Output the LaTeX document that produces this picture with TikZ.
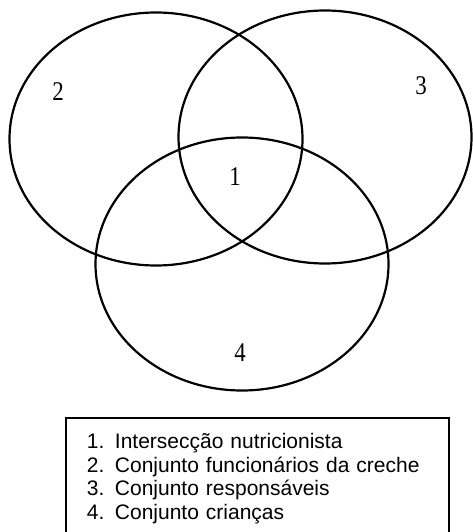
\documentclass[tikz,border=0pt]{standalone}
\usepackage{fontspec}
\setmainfont{Liberation Serif}
\newfontfamily\legendafont{Liberation Sans}
\newfontfamily\numerofont[FakeStretch=0.85]{Liberation Serif}
\usetikzlibrary{shapes.geometric}

\begin{document}
\begin{tikzpicture}[x=1pt,y=-1pt]
        \tikzstyle{conjunto}=[ellipse, draw, line width=2.2pt, inner sep=0pt, minimum width=293pt, minimum height=253pt]
        \tikzstyle{numero}=[font=\numerofont\fontsize{27}{27}\selectfont]
        \clip (0,0) rectangle (473,532);
        \node[conjunto] (funcionarios) at (156,139) {};
        \node[conjunto] (responsaveis) at (325,137) {};
        \node[conjunto] (criancas) at (242,264) {};
        \node[numero] (n1) at (235,177) {1};
        \node[numero] (n2) at (58,92) {2};
        \node[numero] (n3) at (421,86) {3};
        \node[numero] (n4) at (240,353) {4};
        \node[draw, line width=1.8pt, anchor=north west, align=left, text width=341pt,
              inner xsep=21pt, inner ysep=15.5pt,
              font=\legendafont\fontsize{21}{23.5}\selectfont] (legenda) at (65,417)
            {1. Intersecção nutricionista\\
             2. Conjunto funcionários da creche\\
             3. Conjunto responsáveis\\
             4. Conjunto crianças};
    \end{tikzpicture}
\end{document}
